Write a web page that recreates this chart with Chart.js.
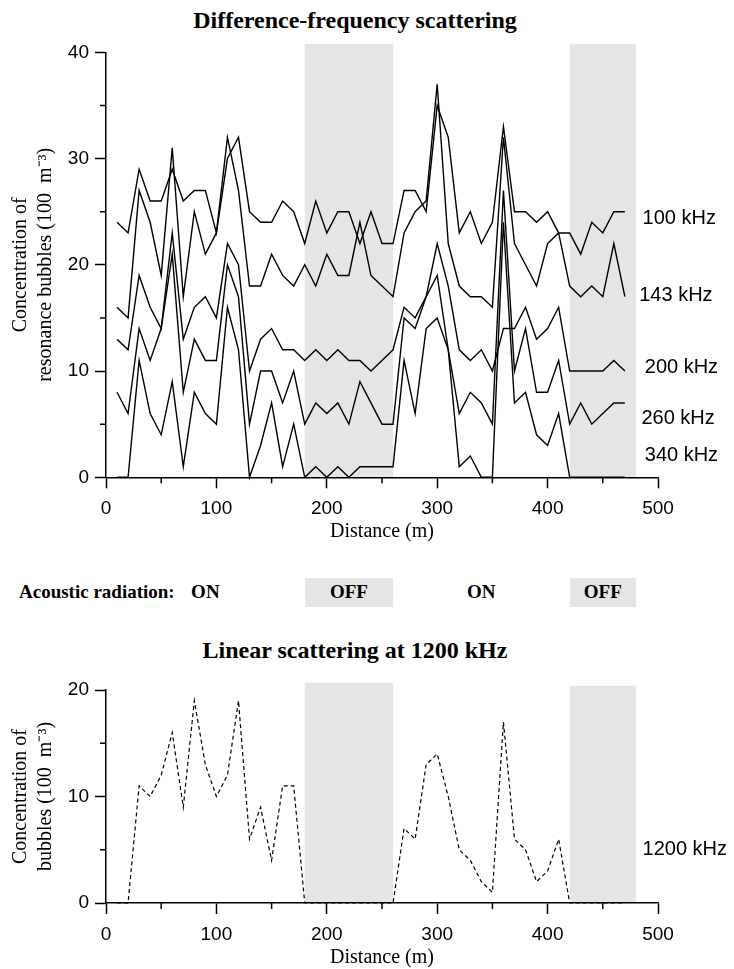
<!DOCTYPE html>
<html>
<head>
<meta charset="utf-8">
<script src="https://cdn.jsdelivr.net/npm/chart.js@4.4.1/dist/chart.umd.min.js"></script>
<style>
  body { margin: 0; background: #fff; width: 734px; height: 969px; overflow: hidden; position: relative; }
  canvas { position: absolute; left: 0; }
  #topChart { top: 0; }
  #bottomChart { top: 620px; }
  .title { position: absolute; left: 0; width: 710px; text-align: center; font: bold 24px "Liberation Serif", serif; line-height: 24px; color: #000; }
  .radiation { position: absolute; top: 578px; height: 29px; box-sizing: border-box; padding-top: 3px; line-height: 29px; font: bold 19px "Liberation Serif", serif; color: #000; text-align: center; }
  .radiation.off { background: #e5e5e5; }
</style>
</head>
<body>
<div class="title" style="top:8px">Difference-frequency scattering</div>
<canvas id="topChart" width="734" height="560"></canvas>
<div class="radiation" style="left:19px;text-align:left">Acoustic radiation:</div>
<div id="radiationRow"></div>
<div class="title" style="top:638px">Linear scattering at 1200 kHz</div>
<canvas id="bottomChart" width="734" height="353"></canvas>
<script>
// distance along the track (m)
const distance = [10, 20, 30, 40, 50, 60, 70, 80, 90, 100, 110, 120, 130, 140, 150, 160, 170, 180, 190, 200,
  210, 220, 230, 240, 250, 260, 270, 280, 290, 300, 310, 320, 330, 340, 350, 360, 370, 380, 390, 400,
  410, 420, 430, 440, 450, 460, 470];

// concentration of resonance bubbles, difference-frequency scattering
const khz100 = [24, 23, 29, 26, 26, 29, 26, 27, 27, 23, 30, 32, 25, 24, 24, 26, 25, 22, 26, 23,
  25, 25, 22, 25, 22, 22, 27, 27, 25, 35, 32, 23, 25, 22, 24, 33, 25, 25, 24, 25,
  23, 23, 21, 24, 23, 25, 25];
const khz143 = [16, 15, 27, 24, 19, 31, 17, 25, 21, 23, 32, 27, 18, 18, 21, 19, 18, 20, 18, 21,
  19, 19, 24, 19, 18, 17, 23, 25, 26, 37, 22, 18, 17, 17, 16, 32, 22, 20, 18, 22,
  23, 18, 17, 18, 17, 22, 17];
const khz200 = [13, 12, 19, 16, 14, 23, 13, 16, 17, 15, 22, 20, 10, 13, 14, 12, 12, 11, 12, 11,
  12, 11, 11, 10, 11, 12, 16, 15, 17, 22, 18, 12, 11, 12, 10, 14, 14, 16, 13, 14,
  16, 10, 10, 10, 10, 11, 10];
const khz260 = [8, 6, 14, 11, 14, 21, 8, 13, 11, 11, 20, 17, 5, 10, 10, 7, 10, 5, 7, 6,
  7, 5, 9, 7, 5, 5, 15, 14, 17, 19, 12, 6, 8, 7, 5, 27, 10, 14, 8, 8,
  11, 5, 7, 5, 6, 7, 7];
const khz340 = [0, 0, 11, 6, 4, 9, 1, 8, 6, 5, 16, 12, 0, 3, 7, 1, 5, 0, 1, 0,
  1, 0, 1, 1, 1, 1, 11, 6, 14, 15, 12, 1, 2, 0, 0, 24, 7, 8, 4, 3,
  6, 0, 0, 0, 0, 0, 0];

// linear scattering at 1200 kHz
const khz1200 = [0, 0, 11, 10, 12, 16, 9, 19, 13, 10, 12, 19, 6, 9, 4, 11, 11, 0, 0, 0,
  0, 0, 0, 0, 0, 0, 7, 6, 13, 14, 10, 5, 4, 2, 1, 17, 6, 5, 2, 3,
  6, 0, 0, 0, 0, 0, 0];

const topSeries = [
  { name: '100 kHz', values: khz100 },
  { name: '143 kHz', values: khz143 },
  { name: '200 kHz', values: khz200 },
  { name: '260 kHz', values: khz260 },
  { name: '340 kHz', values: khz340 }
];

// acoustic radiation switched off over these stretches (m)
const offStretches = [[180, 260], [420, 480]];
const radiationSpans = [[0, 180, 'ON'], [180, 260, 'OFF'], [260, 420, 'ON'], [420, 480, 'OFF']];

const toPoints = vals => vals.map((v, i) => ({ x: distance[i], y: v }));

// grey background stretches
const bandPlugin = {
  id: 'bands',
  beforeDraw(chart, args, opts) {
    const { ctx, scales: { x, y } } = chart;
    ctx.save();
    ctx.fillStyle = '#e5e5e5';
    opts.bands.forEach(([a, b], i) => {
      const x1 = x.getPixelForValue(a);
      const x2 = x.getPixelForValue(b);
      const y1 = y.getPixelForValue(opts.tops[i]);
      const y2 = y.getPixelForValue(0);
      ctx.fillRect(x1, y1, x2 - x1, y2 - y1);
    });
    ctx.restore();
  }
};

// short ticks halfway between the labelled ones
const minorTicks = {
  id: 'minorTicks',
  afterDraw(chart) {
    const { ctx, scales: { x, y } } = chart;
    ctx.save();
    ctx.strokeStyle = '#000';
    ctx.lineWidth = 1.5;
    ctx.beginPath();
    for (let i = 0; i < x.ticks.length - 1; i++) {
      const px = x.getPixelForValue((x.ticks[i].value + x.ticks[i + 1].value) / 2);
      ctx.moveTo(px, x.top);
      ctx.lineTo(px, x.top + 6);
    }
    for (let i = 0; i < y.ticks.length - 1; i++) {
      const py = y.getPixelForValue((y.ticks[i].value + y.ticks[i + 1].value) / 2);
      ctx.moveTo(y.right, py);
      ctx.lineTo(y.right - 6, py);
    }
    ctx.stroke();
    ctx.restore();
  }
};

// frequency labels at the right end of the curves
const curveLabels = {
  id: 'curveLabels',
  afterDraw(chart, args, opts) {
    const { ctx, scales: { x, y } } = chart;
    ctx.save();
    ctx.fillStyle = '#000';
    ctx.font = '20px "Liberation Sans", Arial, sans-serif';
    ctx.textBaseline = 'middle';
    opts.items.forEach(it => {
      ctx.fillText(it.text, x.getPixelForValue(it.x), y.getPixelForValue(it.y));
    });
    ctx.restore();
  }
};

function axisX(height, titlePad) {
  return {
    type: 'linear', min: 0, max: 500,
    ticks: { stepSize: 100, color: '#000', padding: 9, maxRotation: 0,
      font: { family: 'Liberation Sans', size: 19 } },
    grid: { drawOnChartArea: false, drawTicks: true, tickLength: 11, color: '#000', tickWidth: 1.5 },
    border: { display: true, color: '#000', width: 1.5 },
    title: { display: true, text: 'Distance (m)', color: '#000',
      font: { family: 'Liberation Serif', size: 20 }, padding: { top: 0, bottom: titlePad } },
    afterFit(s) { s.height = height; }
  };
}

function axisY(max, titleLines) {
  return {
    min: 0, max: max,
    ticks: { stepSize: 10, color: '#000', padding: 6,
      font: { family: 'Liberation Sans', size: 19 } },
    grid: { drawOnChartArea: false, drawTicks: true, tickLength: 11, color: '#000', tickWidth: 1.5 },
    border: { display: true, color: '#000', width: 1.5 },
    title: { display: true, text: titleLines, color: '#000',
      font: { family: 'Liberation Serif', size: 20, lineHeight: 1.25 }, padding: { top: 8, bottom: 0 } },
    afterFit(s) { s.width = 106; }
  };
}

const topChart = new Chart(document.getElementById('topChart'), {
  type: 'line',
  data: {
    datasets: topSeries.map(s => ({
      label: s.name,
      data: toPoints(s.values),
      borderColor: '#000',
      borderWidth: 1.4,
      pointRadius: 0,
      fill: false,
      tension: 0,
      clip: false
    }))
  },
  options: {
    responsive: false,
    animation: false,
    events: [],
    layout: { padding: { left: 0, top: 52.3, right: 76, bottom: 0 } },
    scales: {
      x: axisX(82.7, 16),
      y: axisY(40, ['Concentration of', 'resonance bubbles (100  m\u207B\u00B3)'])
    },
    plugins: {
      legend: { display: false },
      tooltip: { enabled: false },
      bands: { bands: offStretches, tops: [40.8, 40.8] },
      curveLabels: { items: [
        { text: '100 kHz', x: 486, y: 24.4 },
        { text: '143 kHz', x: 483, y: 17.1 },
        { text: '200 kHz', x: 488, y: 10.3 },
        { text: '260 kHz', x: 485, y: 5.5 },
        { text: '340 kHz', x: 488, y: 2.1 }
      ] }
    }
  },
  plugins: [bandPlugin, minorTicks, curveLabels]
});

new Chart(document.getElementById('bottomChart'), {
  type: 'line',
  data: {
    datasets: [{
      label: '1200 kHz',
      data: toPoints(khz1200),
      borderColor: '#000',
      borderWidth: 1.2,
      borderDash: [4, 3],
      pointRadius: 0,
      fill: false,
      tension: 0,
      clip: false
    }]
  },
  options: {
    responsive: false,
    animation: false,
    events: [],
    layout: { padding: { left: 0, top: 70, right: 76, bottom: 0 } },
    scales: {
      x: axisX(70, 3),
      y: axisY(20, ['Concentration of', 'bubbles (100  m\u207B\u00B3)'])
    },
    plugins: {
      legend: { display: false },
      tooltip: { enabled: false },
      bands: { bands: offStretches, tops: [20.7, 20.4] },
      curveLabels: { items: [{ text: '1200 kHz', x: 486, y: 5.0 }] }
    }
  },
  plugins: [bandPlugin, minorTicks, curveLabels]
});

// ON / OFF strip under the top chart, lined up with its distance axis
const row = document.getElementById('radiationRow');
const xs = topChart.scales.x;
radiationSpans.forEach(([a, b, state]) => {
  const d = document.createElement('div');
  d.className = 'radiation' + (state === 'OFF' ? ' off' : '');
  const x1 = xs.getPixelForValue(a);
  const x2 = xs.getPixelForValue(b);
  d.style.left = x1 + 'px';
  d.style.width = (x2 - x1) + 'px';
  d.textContent = state;
  row.appendChild(d);
});
</script>
</body>
</html>
